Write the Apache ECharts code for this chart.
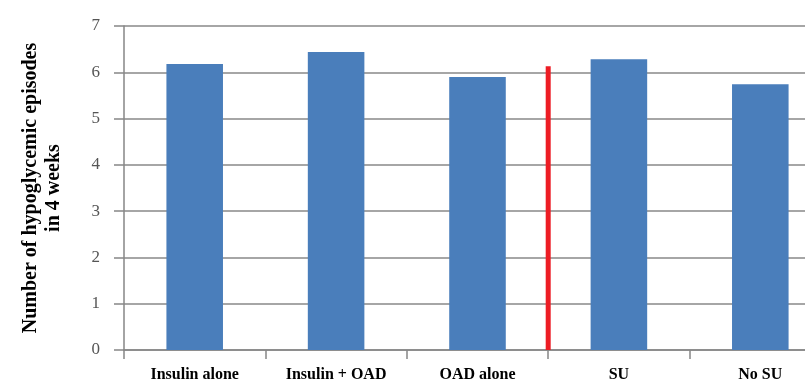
<!DOCTYPE html>
<html><head><meta charset="utf-8">
<script src="https://cdn.jsdelivr.net/npm/echarts@6/dist/echarts.min.js"></script>
<style>html,body{margin:0;padding:0;background:#fff}#c{width:805px;height:383px}</style>
</head><body><div id="c"></div>
<script>
const categories = ['Insulin alone', 'Insulin + OAD', 'OAD alone', 'SU', 'No SU'];
const episodes = [6.18, 6.44, 5.90, 6.28, 5.74];
const yTicks = [0, 1, 2, 3, 4, 5, 6, 7];
const dividerPosition = 3;   // between "OAD alone" and "SU"
const dividerHeight = 6.13;

const chart = echarts.init(document.getElementById('c'), null, {renderer: 'canvas'});
const serif = '"Liberation Serif", "DejaVu Serif", serif';
chart.setOption({
  animation: false,
  grid: {left: 124, top: 26, bottom: 33, right: -26, containLabel: false, outerBoundsMode: 'none'},
  xAxis: [{
    type: 'category', data: categories,
    axisLine: {lineStyle: {color: '#868686', width: 1.5}},
    axisTick: {show: true, length: 9, lineStyle: {color: '#868686', width: 1.5}},
    axisLabel: {color: '#000', fontFamily: serif, fontWeight: 'bold', fontSize: 16, margin: 17}
  }, {
    type: 'value', min: 0, max: 5, show: false
  }],
  yAxis: {
    type: 'value', min: yTicks[0], max: yTicks[yTicks.length - 1], interval: 1,
    name: 'Number of hypoglycemic episodes\nin 4 weeks',
    nameLocation: 'middle', nameGap: 59, nameRotate: 90,
    nameTextStyle: {color: '#000', fontFamily: serif, fontWeight: 'bold', fontSize: 20, lineHeight: 23, align: 'center'},
    axisLine: {show: true, lineStyle: {color: '#868686', width: 1.5}},
    axisTick: {show: true, length: 10, lineStyle: {color: '#868686', width: 1.5}},
    axisLabel: {color: '#555', fontFamily: serif, fontSize: 17, margin: 24},
    splitLine: {lineStyle: {color: '#a6a6a6', width: 2}}
  },
  series: [{
    type: 'bar', data: episodes, barCategoryGap: '60%',
    itemStyle: {color: '#4A7EBB'}
  }, {
    type: 'line', xAxisIndex: 1, symbol: 'none',
    data: [[dividerPosition, 0], [dividerPosition, dividerHeight]],
    lineStyle: {color: '#ED1C24', width: 5, cap: 'butt'}, z: 5
  }]
});
</script></body></html>
